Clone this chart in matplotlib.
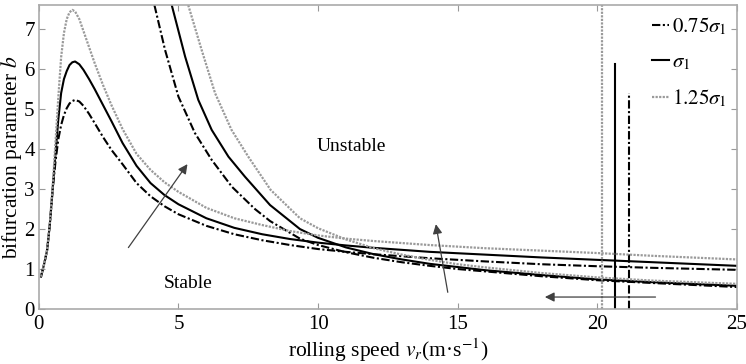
import matplotlib
matplotlib.use("Agg")
import matplotlib.pyplot as plt

plt.rcParams['font.family'] = ['Liberation Serif', 'DejaVu Serif']
plt.rcParams['mathtext.fontset'] = 'stix'

# peaked branch
peak_x = [0.08, 0.2, 0.3, 0.4, 0.5, 0.6, 0.7, 0.8, 0.9, 1.0, 1.1, 1.2, 1.3, 1.45, 1.6, 1.8,
          2.0, 2.3, 2.6, 3.0, 3.5, 4.0, 4.5, 5.0, 6.0, 7.0, 8.0, 9.0, 10, 11, 12, 14, 16,
          18, 20, 22, 25]
peak_075 = [0.81, 1.15, 1.48, 2.15, 3.0, 3.7, 4.25, 4.6, 4.85, 5.02, 5.14, 5.2, 5.23, 5.19,
            5.08, 4.88, 4.65, 4.3, 3.98, 3.62, 3.15, 2.82, 2.57, 2.37, 2.08, 1.87, 1.72, 1.6,
            1.5, 1.43, 1.37, 1.27, 1.19, 1.12, 1.07, 1.03, 0.98]
peak_100 = [0.81, 1.15, 1.48, 2.15, 3.05, 3.9, 4.75, 5.4, 5.75, 5.95, 6.1, 6.17, 6.19, 6.12,
            5.98, 5.75, 5.5, 5.1, 4.7, 4.15, 3.58, 3.15, 2.85, 2.62, 2.27, 2.03, 1.87, 1.75,
            1.66, 1.59, 1.53, 1.43, 1.36, 1.29, 1.23, 1.17, 1.08]
peak_125 = [0.81, 1.15, 1.5, 2.2, 3.1, 4.2, 5.3, 6.3, 6.9, 7.25, 7.42, 7.48, 7.44, 7.25,
            6.95, 6.55, 6.15, 5.6, 5.1, 4.5, 3.88, 3.48, 3.17, 2.93, 2.53, 2.27, 2.1, 1.95,
            1.84, 1.76, 1.7, 1.6, 1.52, 1.46, 1.4, 1.33, 1.24]

# hyperbolic branch
hyp_x_075 = [4.14, 4.52, 5.0, 5.59, 6.19, 6.91, 7.74, 8.28, 9.35, 10, 11, 12, 13, 14, 15,
             16, 18, 20, 22, 25]
hyp_075 = [7.6, 6.48, 5.31, 4.4, 3.73, 3.06, 2.5, 2.2, 1.76, 1.6, 1.42, 1.28, 1.17, 1.08,
           1.0, 0.94, 0.82, 0.72, 0.65, 0.55]
hyp_x_100 = [4.76, 5.24, 5.71, 6.19, 6.79, 7.38, 8.28, 9.35, 10, 11, 12, 13, 14, 15, 16,
             18, 20, 22, 25]
hyp_100 = [7.6, 6.31, 5.23, 4.48, 3.81, 3.31, 2.6, 2.0, 1.78, 1.54, 1.37, 1.24, 1.13, 1.05,
           0.97, 0.85, 0.74, 0.67, 0.58]
hyp_x_125 = [5.35, 5.83, 6.31, 6.9, 7.5, 8.3, 9.35, 10, 11, 12, 13, 14, 15, 16, 18, 20,
             22, 25]
hyp_125 = [7.6, 6.48, 5.4, 4.48, 3.81, 2.98, 2.27, 2.02, 1.74, 1.52, 1.36, 1.23, 1.12, 1.04,
           0.9, 0.79, 0.71, 0.63]

# vertical branches (x position, top value)
vert_x = [21.13, 20.64, 20.18]
vert_top = [5.41, 6.13, 7.6]

labels = [r'$0.75\sigma_1$', r'$\sigma_1$', r'$1.25\sigma_1$']
styles = [dict(color='black', lw=1.5, ls=(0, (4, 1.2, 1, 1.2))),
          dict(color='black', lw=1.5, ls='-'),
          dict(color='#9a9a9a', lw=1.6, ls=(0, (1, 0.6)))]

fig = plt.figure(figsize=(7.46, 3.64), dpi=100)
ax = fig.add_axes([0.052, 0.151, 0.936, 0.835])

peaks = [peak_075, peak_100, peak_125]
hyps = [(hyp_x_075, hyp_075), (hyp_x_100, hyp_100), (hyp_x_125, hyp_125)]
for i in range(3):
    st = styles[i]
    ax.plot(peak_x, peaks[i], label=labels[i], **st)
    ax.plot(hyps[i][0], hyps[i][1], **st)
    ax.plot([vert_x[i], vert_x[i]], [0, vert_top[i]], **st)

# arrows
arr = dict(arrowstyle='-|>', color='#404040', lw=0.9, mutation_scale=14)
ax.annotate('', xy=(5.38, 3.68), xytext=(3.15, 1.48), arrowprops=arr)
ax.annotate('', xy=(14.2, 2.19), xytext=(14.66, 0.35), arrowprops=arr)
ax.annotate('', xy=(18.02, 0.3), xytext=(22.18, 0.3), arrowprops=arr)

ax.text(11.2, 4.06, 'Unstable', ha='center', va='center', fontsize=14)
ax.text(5.36, 0.65, 'Stable', ha='center', va='center', fontsize=14)

ax.set_xlim(0, 25)
ax.set_ylim(0, 7.6)
ax.set_xticks([0, 5, 10, 15, 20, 25])
ax.set_yticks(range(8))
ax.tick_params(direction='in', top=True, right=True, length=4, color='#999999',
               labelsize=15)
ax.tick_params(axis='x', pad=4)
ax.tick_params(axis='y', pad=3)
for s in ax.spines.values():
    s.set_color('#aaaaaa')
    s.set_linewidth(1.2)

ax.set_xlabel(r'rolling speed $v_r$(m·s$^{-1}$)', fontsize=15.5, labelpad=2)
ax.set_ylabel(r'bifurcation parameter $b$', fontsize=15.5, labelpad=0)

ax.legend(loc='upper right', frameon=False, fontsize=15, handlelength=0.8,
          handletextpad=0.15, labelspacing=0.75, borderaxespad=0.1)

fig.savefig('out.png', dpi=100)
